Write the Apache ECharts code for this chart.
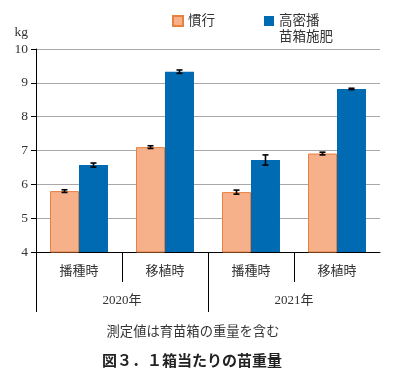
<!DOCTYPE html>
<html>
<head>
<meta charset="utf-8">
<script src="https://cdn.jsdelivr.net/npm/echarts@6/dist/echarts.min.js"></script>
<style>html,body{margin:0;padding:0;background:#fff}#c{width:413px;height:374px}</style>
</head>
<body>
<div id="c"></div>
<script>
const categories = ['播種時', '移植時', '播種時', '移植時'];
const years = ['2020年', '2021年'];
const seriesNames = ['慣行', '高密播苗箱施肥'];
const conventional = [5.80, 7.10, 5.77, 6.91];
const conventionalErr = [0.04, 0.04, 0.06, 0.04];
const highDensity = [6.57, 9.33, 6.72, 8.82];
const highDensityErr = [0.06, 0.05, 0.15, 0.02];
const yMin = 4, yMax = 10, yStep = 1;
const unitLabel = 'kg';
const noteText = '測定値は育苗箱の重量を含む';
const titleText = '図３．１箱当たりの苗重量';

const SERIF = "'Liberation Serif','DejaVu Serif','Noto Sans CJK JP',serif";
const SANS = "'Noto Sans CJK JP','Noto Sans',sans-serif";
const BAR_FRAC = 0.337;

function errData(vals, errs) {
  return vals.map((v, i) => [i, v - errs[i], v + errs[i]]);
}
function errRender(side) {
  return function (params, api) {
    const band = api.size([1, 0])[0];
    const w = band * BAR_FRAC;
    const off = side * w / 2;
    const lo = api.coord([api.value(0), api.value(1)]);
    const hi = api.coord([api.value(0), api.value(2)]);
    const x = lo[0] + off;
    const cap = 3;
    const st = { stroke: '#000', lineWidth: 1.6 };
    return {
      type: 'group',
      children: [
        { type: 'line', shape: { x1: x, y1: lo[1], x2: x, y2: hi[1] }, style: st },
        { type: 'line', shape: { x1: x - cap, y1: lo[1], x2: x + cap, y2: lo[1] }, style: st },
        { type: 'line', shape: { x1: x - cap, y1: hi[1], x2: x + cap, y2: hi[1] }, style: st }
      ]
    };
  };
}

const chart = echarts.init(document.getElementById('c'));
chart.setOption({
  animation: false,
  backgroundColor: '#fff',
  title: [
    { text: noteText, left: 188, top: 321, textAlign: 'center',
      textStyle: { fontFamily: SERIF, fontSize: 13.3, fontWeight: 'normal', color: '#333' } },
    { text: titleText, left: 187, top: 348, textAlign: 'center',
      textStyle: { fontFamily: SANS, fontSize: 15, fontWeight: 'bold', color: '#222' } }
  ],
  legend: {
    left: 172, top: -3, padding: 0,
    itemWidth: 10, itemHeight: 10, itemGap: 49,
    textStyle: { fontFamily: SERIF, fontSize: 13.5, color: '#333', lineHeight: 16 },
    data: [
      { name: seriesNames[0], icon: 'rect' },
      { name: seriesNames[1], icon: 'rect' }
    ],
    formatter: function (n) { return n === seriesNames[1] ? ' \n高密播\n苗箱施肥' : n; }
  },
  grid: { left: 36, right: 33, top: 49, bottom: 122, containLabel: false },
  xAxis: [
    { type: 'category', data: categories, position: 'bottom',
      axisLine: { lineStyle: { color: '#000', width: 1 } },
      axisTick: { show: false },
      axisLabel: { margin: 13, fontFamily: SERIF, fontSize: 13, color: '#333' } },
    { type: 'category', data: years, position: 'bottom',
      axisLine: { show: false }, axisTick: { show: false },
      axisLabel: { margin: 42, fontFamily: SERIF, fontSize: 13, color: '#333' } },
    { type: 'value', min: 0, max: 4, position: 'bottom',
      axisLine: { show: false }, splitLine: { show: false }, axisLabel: { show: false },
      axisTick: { show: true, customValues: [1, 3], length: 30, lineStyle: { color: '#000', width: 1 } } },
    { type: 'value', min: 0, max: 4, position: 'bottom',
      axisLine: { show: false }, splitLine: { show: false }, axisLabel: { show: false },
      axisTick: { show: true, customValues: [0, 2], length: 60, lineStyle: { color: '#000', width: 1 } } }
  ],
  yAxis: {
    type: 'value', min: yMin, max: yMax, interval: yStep,
    name: unitLabel, nameLocation: 'end', nameGap: 10,
    nameTextStyle: { fontFamily: SERIF, fontSize: 13.5, color: '#333', align: 'right', padding: [0, 8, 0, 0] },
    axisLine: { show: true, lineStyle: { color: '#000', width: 1 } },
    axisTick: { show: true, length: 5, lineStyle: { color: '#000' } },
    axisLabel: { margin: 8, fontFamily: SERIF, fontSize: 13.5, color: '#333' },
    splitLine: { lineStyle: { color: '#a8a8a8', width: 1 } }
  },
  series: [
    { name: seriesNames[0], type: 'bar', data: conventional, barWidth: (BAR_FRAC * 100) + '%', barGap: '0%',
      itemStyle: { color: '#F6B08A', borderColor: '#E8803E', borderWidth: 1 } },
    { name: seriesNames[1], type: 'bar', data: highDensity, barWidth: (BAR_FRAC * 100) + '%', barGap: '0%',
      itemStyle: { color: '#006AB2' } },
    { type: 'custom', renderItem: errRender(-1), data: errData(conventional, conventionalErr), z: 5, silent: true },
    { type: 'custom', renderItem: errRender(1), data: errData(highDensity, highDensityErr), z: 5, silent: true }
  ]
});
</script>
</body>
</html>
